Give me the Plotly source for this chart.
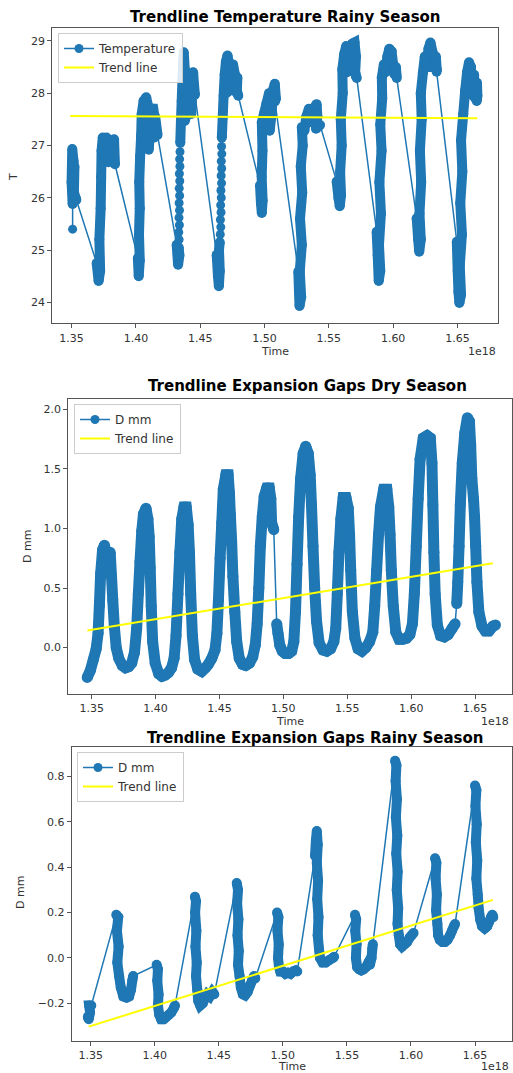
import plotly.graph_objects as go

BLUE = "#1f77b4"
W, H = 513, 1073

# ---------------- DATA (time in units of 1e18) ----------------
# Each run = consecutive readings; runs are joined by the plain connecting line.
temp_rainy_runs = [
    [(1.3508, 25.40)],
    [(1.3508, 25.88), (1.3500, 26.30), (1.3505, 26.93), (1.3515, 26.70), (1.3510, 26.40),
     (1.3522, 26.60), (1.3518, 26.10), (1.3537, 25.96)],
    [(1.3695, 24.75), (1.3710, 24.41), (1.3722, 24.60), (1.3716, 25.20), (1.3726, 25.80),
     (1.3730, 26.40), (1.3733, 26.90), (1.3742, 27.15), (1.3758, 26.75), (1.3772, 27.15),
     (1.3786, 26.68), (1.3800, 27.10), (1.3815, 26.75), (1.3830, 27.12), (1.3837, 26.64)],
    [(1.4015, 24.85), (1.4022, 24.50), (1.4030, 24.80), (1.4024, 25.30), (1.4030, 25.80),
     (1.4026, 26.30), (1.4033, 26.80), (1.4041, 27.20), (1.4045, 27.60), (1.4060, 27.85),
     (1.4080, 27.92), (1.4095, 27.75), (1.4080, 27.35), (1.4060, 27.10), (1.4085, 27.00),
     (1.4100, 26.92), (1.4110, 27.30), (1.4120, 27.70), (1.4135, 27.70), (1.4150, 27.45),
     (1.4140, 27.15), (1.4155, 27.20), (1.4150, 27.55), (1.4168, 27.20)],
    [(1.4317, 25.10), (1.4328, 24.72), (1.4338, 24.90), (1.4333, 25.05)],
    [(1.4336, 25.20)], [(1.4333, 25.34)], [(1.4338, 25.48)], [(1.4335, 25.62)], [(1.4339, 25.76)],
    [(1.4336, 25.90)], [(1.4340, 26.04)], [(1.4337, 26.18)], [(1.4341, 26.32)], [(1.4338, 26.46)],
    [(1.4342, 26.60)], [(1.4340, 26.74)], [(1.4343, 26.88)],
    [(1.4345, 27.05), (1.4350, 27.45), (1.4356, 27.85), (1.4362, 28.25), (1.4368, 28.60),
     (1.4372, 28.78), (1.4380, 28.45), (1.4372, 28.00), (1.4365, 27.55), (1.4380, 27.47),
     (1.4395, 27.60), (1.4400, 28.00), (1.4412, 28.30), (1.4425, 28.10), (1.4415, 27.70),
     (1.4430, 27.60), (1.4438, 28.00), (1.4445, 28.40), (1.4452, 28.15), (1.4459, 27.97)],
    [(1.4628, 24.91), (1.4638, 24.50), (1.4645, 24.31), (1.4652, 24.60), (1.4646, 25.00),
     (1.4652, 25.15)],
    [(1.4656, 25.30)], [(1.4660, 25.44)], [(1.4657, 25.58)], [(1.4662, 25.72)], [(1.4659, 25.86)],
    [(1.4664, 26.00)], [(1.4661, 26.14)], [(1.4666, 26.28)], [(1.4663, 26.42)], [(1.4667, 26.56)],
    [(1.4664, 26.70)], [(1.4668, 26.84)], [(1.4666, 26.98)],
    [(1.4668, 27.15), (1.4675, 27.55), (1.4682, 27.95), (1.4690, 28.35), (1.4700, 28.60),
     (1.4712, 28.72), (1.4725, 28.55), (1.4715, 28.20), (1.4705, 28.01), (1.4725, 28.05),
     (1.4740, 28.35), (1.4755, 28.55), (1.4770, 28.35), (1.4762, 28.05), (1.4780, 28.03),
     (1.4789, 28.30), (1.4785, 28.05), (1.4796, 27.95)],
    [(1.4965, 26.24), (1.4972, 25.90), (1.4979, 25.71), (1.4985, 25.95), (1.4978, 26.40),
     (1.4984, 26.90), (1.4979, 27.44), (1.4995, 27.60), (1.5015, 27.80), (1.5035, 28.00),
     (1.5045, 27.50), (1.5040, 27.28), (1.5055, 27.60), (1.5065, 28.05), (1.5080, 28.18),
     (1.5088, 27.90), (1.5081, 27.84)],
    [(1.5263, 24.59), (1.5268, 24.20), (1.5272, 23.93), (1.5285, 24.10), (1.5274, 24.60),
     (1.5290, 25.10), (1.5276, 25.60), (1.5293, 26.10), (1.5282, 26.60), (1.5297, 27.00),
     (1.5290, 27.35), (1.5310, 27.28), (1.5325, 27.55), (1.5345, 27.70), (1.5360, 27.45),
     (1.5378, 27.55), (1.5395, 27.75), (1.5405, 27.79), (1.5411, 27.55), (1.5400, 27.32),
     (1.5432, 27.39)],
    [(1.5561, 26.31), (1.5575, 26.00), (1.5585, 25.84), (1.5595, 26.05), (1.5588, 26.50),
     (1.5600, 27.00), (1.5593, 27.50), (1.5608, 28.00), (1.5605, 28.45), (1.5620, 28.75),
     (1.5635, 28.90), (1.5650, 28.70), (1.5642, 28.40), (1.5660, 28.45), (1.5672, 28.80),
     (1.5685, 28.95), (1.5700, 28.97), (1.5711, 28.70), (1.5705, 28.40), (1.5711, 28.33),
     (1.5717, 28.29)],
    [(1.5872, 25.35), (1.5880, 24.90), (1.5888, 24.41), (1.5900, 24.60), (1.5890, 25.10),
     (1.5905, 25.70), (1.5893, 26.30), (1.5910, 26.90), (1.5900, 27.40), (1.5915, 27.90),
     (1.5912, 28.30), (1.5928, 28.55), (1.5942, 28.40), (1.5955, 28.70), (1.5970, 28.85),
     (1.5988, 28.80), (1.6000, 28.55), (1.6010, 28.36), (1.6022, 28.50), (1.6025, 28.36),
     (1.6028, 28.29)],
    [(1.6183, 25.61), (1.6195, 25.20), (1.6203, 24.97), (1.6215, 25.20), (1.6205, 25.70),
     (1.6218, 26.30), (1.6208, 26.90), (1.6222, 27.50), (1.6215, 28.00), (1.6232, 28.40),
     (1.6246, 28.70), (1.6262, 28.55), (1.6275, 28.85), (1.6290, 28.97), (1.6305, 28.80),
     (1.6298, 28.50), (1.6318, 28.50), (1.6332, 28.70), (1.6339, 28.45), (1.6338, 28.41)],
    [(1.6495, 25.16), (1.6502, 24.60), (1.6508, 24.20), (1.6515, 23.99), (1.6528, 24.15),
     (1.6518, 24.70), (1.6535, 25.30), (1.6522, 25.90), (1.6538, 26.50), (1.6528, 27.10),
     (1.6545, 27.60), (1.6560, 28.05), (1.6575, 28.40), (1.6590, 28.59), (1.6605, 28.50),
     (1.6600, 28.10), (1.6615, 28.30), (1.6630, 28.35), (1.6625, 27.95), (1.6640, 27.90),
     (1.6652, 28.20), (1.6655, 27.95), (1.6650, 27.85)],
]
temp_trend_time = [1.3490, 1.6655]
temp_trend = [27.565, 27.52]

gap_dry_runs = [
    [(1.3465, -0.25), (1.3490, -0.19), (1.3513, -0.10), (1.3535, -0.01), (1.3550, 0.12),
     (1.3560, 0.35), (1.3570, 0.62), (1.3585, 0.82), (1.3600, 0.86), (1.3612, 0.78),
     (1.3622, 0.64), (1.3632, 0.78), (1.3645, 0.80), (1.3655, 0.60), (1.3665, 0.40),
     (1.3677, 0.18), (1.3692, 0.00), (1.3712, -0.09), (1.3740, -0.15), (1.3765, -0.17),
     (1.3790, -0.16), (1.3813, -0.13), (1.3835, -0.04), (1.3852, 0.16), (1.3865, 0.45),
     (1.3878, 0.72), (1.3892, 0.98), (1.3905, 1.12), (1.3925, 1.17), (1.3940, 1.08),
     (1.3950, 0.93), (1.3958, 0.67), (1.3966, 0.35), (1.3977, 0.05), (1.3997, -0.13),
     (1.4025, -0.22), (1.4050, -0.24), (1.4075, -0.23), (1.4100, -0.21), (1.4125, -0.17),
     (1.4145, -0.09), (1.4160, 0.10), (1.4175, 0.45), (1.4190, 0.80), (1.4205, 1.08),
     (1.4222, 1.18), (1.4240, 1.18), (1.4255, 1.03), (1.4265, 0.80), (1.4275, 0.45),
     (1.4288, 0.10), (1.4305, -0.10), (1.4330, -0.18), (1.4361, -0.20), (1.4390, -0.17),
     (1.4413, -0.14), (1.4440, -0.09), (1.4465, -0.02), (1.4480, 0.12), (1.4492, 0.40),
     (1.4505, 0.75), (1.4518, 1.05), (1.4530, 1.33), (1.4550, 1.45), (1.4568, 1.45),
     (1.4578, 1.30), (1.4585, 1.12), (1.4595, 0.90), (1.4605, 0.60), (1.4620, 0.30),
     (1.4635, 0.05), (1.4655, -0.09), (1.4680, -0.14), (1.4705, -0.15), (1.4735, -0.13),
     (1.4760, -0.08), (1.4780, 0.02), (1.4795, 0.20), (1.4808, 0.50), (1.4820, 0.85),
     (1.4835, 1.10), (1.4850, 1.27), (1.4870, 1.34), (1.4890, 1.34), (1.4902, 1.25),
     (1.4908, 1.05), (1.4925, 0.99)],
    [(1.4948, 0.20), (1.4958, 0.12), (1.4972, 0.02), (1.4992, -0.03), (1.5015, -0.05),
     (1.5040, -0.05), (1.5065, -0.03), (1.5082, 0.05), (1.5095, 0.30), (1.5107, 0.70),
     (1.5120, 1.10), (1.5135, 1.42), (1.5155, 1.63), (1.5175, 1.69), (1.5195, 1.63),
     (1.5210, 1.45), (1.5220, 1.20), (1.5232, 0.85), (1.5245, 0.50), (1.5260, 0.22),
     (1.5280, 0.04), (1.5310, -0.02), (1.5340, -0.03), (1.5370, -0.01), (1.5395, 0.05),
     (1.5410, 0.16), (1.5422, 0.45), (1.5435, 0.80), (1.5450, 1.08), (1.5468, 1.26),
     (1.5490, 1.26), (1.5508, 1.17), (1.5518, 0.95), (1.5527, 0.65), (1.5540, 0.30),
     (1.5560, 0.08), (1.5585, -0.01), (1.5615, -0.03), (1.5645, 0.00), (1.5675, 0.05),
     (1.5700, 0.13), (1.5715, 0.35), (1.5730, 0.65), (1.5745, 0.95), (1.5760, 1.18),
     (1.5785, 1.33), (1.5810, 1.33), (1.5825, 1.18), (1.5835, 0.95), (1.5845, 0.65),
     (1.5860, 0.35), (1.5880, 0.13), (1.5905, 0.07), (1.5935, 0.07), (1.5965, 0.08),
     (1.5990, 0.11), (1.6010, 0.20), (1.6025, 0.45), (1.6040, 0.85), (1.6055, 1.25),
     (1.6070, 1.58), (1.6095, 1.76), (1.6125, 1.78), (1.6150, 1.76), (1.6163, 1.55),
     (1.6170, 1.20), (1.6178, 0.80), (1.6188, 0.45), (1.6205, 0.19), (1.6230, 0.10),
     (1.6260, 0.09), (1.6290, 0.11), (1.6320, 0.16), (1.6344, 0.20)],
    [(1.6357, 0.37), (1.6365, 0.55), (1.6375, 0.85), (1.6385, 1.20), (1.6400, 1.55),
     (1.6420, 1.80), (1.6440, 1.93), (1.6456, 1.90), (1.6466, 1.70), (1.6475, 1.42),
     (1.6488, 1.25), (1.6496, 1.10), (1.6505, 0.85), (1.6515, 0.55), (1.6530, 0.30),
     (1.6555, 0.18), (1.6580, 0.14), (1.6610, 0.14), (1.6640, 0.18), (1.6660, 0.19)],
]
gap_dry_trend_time = [1.3466, 1.6639]
gap_dry_trend = [0.143, 0.708]

gap_rainy_runs = [
    [(1.3478, -0.26), (1.3485, -0.27), (1.3495, -0.24), (1.3488, -0.21), (1.3505, -0.21)],
    [(1.3700, 0.19), (1.3715, 0.18), (1.3705, 0.12), (1.3718, 0.05), (1.3708, -0.02),
     (1.3722, -0.08), (1.3735, -0.13), (1.3755, -0.17), (1.3780, -0.175), (1.3800, -0.17),
     (1.3815, -0.14), (1.3825, -0.10), (1.3832, -0.08)],
    [(1.4015, -0.03), (1.4025, -0.05), (1.4020, -0.10), (1.4030, -0.16), (1.4025, -0.21),
     (1.4035, -0.25), (1.4050, -0.27), (1.4070, -0.27), (1.4090, -0.26), (1.4110, -0.25),
     (1.4130, -0.24), (1.4150, -0.22), (1.4158, -0.21)],
    [(1.4314, 0.27), (1.4322, 0.25), (1.4315, 0.20), (1.4325, 0.12), (1.4318, 0.05),
     (1.4328, -0.02), (1.4322, -0.08), (1.4332, -0.14), (1.4340, -0.19), (1.4355, -0.21),
     (1.4375, -0.20), (1.4390, -0.18), (1.4410, -0.16), (1.4430, -0.17), (1.4450, -0.15),
     (1.4465, -0.16)],
    [(1.4640, 0.33), (1.4650, 0.30), (1.4643, 0.24), (1.4653, 0.17), (1.4646, 0.10),
     (1.4656, 0.03), (1.4650, -0.03), (1.4662, -0.08), (1.4672, -0.13), (1.4688, -0.16),
     (1.4705, -0.165), (1.4725, -0.15), (1.4745, -0.12), (1.4760, -0.10), (1.4775, -0.08),
     (1.4785, -0.09)],
    [(1.4955, 0.20), (1.4965, 0.18), (1.4958, 0.12), (1.4968, 0.06), (1.4962, 0.00),
     (1.4970, -0.04), (1.4980, -0.06), (1.5000, -0.06), (1.5020, -0.07), (1.5040, -0.065),
     (1.5060, -0.07), (1.5080, -0.06), (1.5100, -0.055), (1.5112, -0.06)],
    [(1.5251, 0.45), (1.5258, 0.52), (1.5265, 0.56), (1.5272, 0.50), (1.5265, 0.42),
     (1.5275, 0.34), (1.5268, 0.26), (1.5278, 0.18), (1.5272, 0.10), (1.5282, 0.04),
     (1.5290, 0.00), (1.5310, -0.02), (1.5335, -0.02), (1.5360, -0.01), (1.5390, 0.00),
     (1.5400, 0.005)],
    [(1.5563, 0.19), (1.5572, 0.17), (1.5565, 0.12), (1.5575, 0.06), (1.5570, 0.00),
     (1.5580, -0.04), (1.5595, -0.05), (1.5612, -0.055), (1.5630, -0.05), (1.5650, -0.04),
     (1.5668, -0.02), (1.5680, -0.03), (1.5692, 0.00), (1.5698, 0.04), (1.5702, 0.06)],
    [(1.5876, 0.87), (1.5886, 0.85), (1.5880, 0.78), (1.5890, 0.70), (1.5882, 0.62),
     (1.5893, 0.54), (1.5885, 0.46), (1.5896, 0.38), (1.5889, 0.30), (1.5900, 0.22),
     (1.5895, 0.15), (1.5905, 0.10), (1.5915, 0.06), (1.5930, 0.05), (1.5950, 0.06),
     (1.5970, 0.07), (1.5990, 0.09), (1.6005, 0.10), (1.6020, 0.11)],
    [(1.6188, 0.44), (1.6198, 0.42), (1.6192, 0.35), (1.6202, 0.28), (1.6196, 0.21),
     (1.6206, 0.15), (1.6212, 0.10), (1.6225, 0.08), (1.6245, 0.07), (1.6265, 0.07),
     (1.6285, 0.08), (1.6305, 0.10), (1.6320, 0.12), (1.6335, 0.14), (1.6344, 0.15)],
    [(1.6500, 0.76), (1.6510, 0.74), (1.6503, 0.67), (1.6513, 0.59), (1.6506, 0.51),
     (1.6517, 0.43), (1.6510, 0.35), (1.6521, 0.28), (1.6528, 0.22), (1.6540, 0.17),
     (1.6555, 0.14), (1.6575, 0.13), (1.6595, 0.14), (1.6610, 0.16), (1.6625, 0.18),
     (1.6635, 0.19), (1.6642, 0.18)],
]
gap_rainy_trend_time = [1.3485, 1.6640]
gap_rainy_trend = [-0.303, 0.256]

time_ticks = [1.35, 1.40, 1.45, 1.50, 1.55, 1.60, 1.65]
temp_ticks = [24, 25, 26, 27, 28, 29]
gap_dry_ticks = [0.0, 0.5, 1.0, 1.5, 2.0]
gap_rainy_ticks = [-0.2, 0.0, 0.2, 0.4, 0.6, 0.8]

titles = ["Trendline Temperature Rainy Season",
          "Trendline Expansion Gaps Dry Season",
          "Trendline Expansion Gaps Rainy Season"]
series_names = ["Temperature", "D mm", "D mm"]
y_labels = ["T", "D mm", "D mm"]


# ---------------- helpers ----------------
def build(runs):
    t_all, v_all, t_thick, v_thick = [], [], [], []
    for run in runs:
        for t, v in run:
            t_all.append(t)
            v_all.append(v)
        if len(run) > 1:
            t_thick += [p[0] for p in run] + [None]
            v_thick += [p[1] for p in run] + [None]
    return t_all, v_all, t_thick, v_thick


def px_x(p):
    return p / W


def px_y(p):
    return 1 - p / H


panels = [
    dict(runs=temp_rainy_runs, tt=temp_trend_time, tv=temp_trend, width=10,
         xdom=[52.3, 497.7], ydom=[323.3, 28.3], xr=[1.3350, 1.6813], yr=[23.60, 29.24],
         yticks=temp_ticks, yfmt="d", legend="legend",
         leg=(58, 33), title_xy=(285, 17), ylab_xy=(13, 177), time_y=351, e18_x=498),
    dict(runs=gap_dry_runs, tt=gap_dry_trend_time, tv=gap_dry_trend, width=11,
         xdom=[68.3, 511.7], ydom=[694.0, 399.3], xr=[1.3317, 1.6787], yr=[-0.389, 2.084],
         yticks=gap_dry_ticks, yfmt=".1f", legend="legend2",
         leg=(74, 404), title_xy=(307.5, 386), ylab_xy=(27, 547), time_y=721, e18_x=511),
    dict(runs=gap_rainy_runs, tt=gap_rainy_trend_time, tv=gap_rainy_trend, width=10,
         xdom=[71.7, 511.7], ydom=[1040.7, 747.3], xr=[1.3352, 1.6786], yr=[-0.365, 0.929],
         yticks=gap_rainy_ticks, yfmt=".1f", legend="legend3",
         leg=(77, 752), title_xy=(315, 738), ylab_xy=(20, 893), time_y=1066, e18_x=511),
]

fig = go.Figure()
annotations = []
layout_axes = {}
tickfont = dict(family="DejaVu Sans", size=11, color="#333333")
labfont = dict(family="DejaVu Sans", size=11, color="#333333")

for i, p in enumerate(panels):
    n = "" if i == 0 else str(i + 1)
    xa, ya = "x" + n, "y" + n
    t_all, v_all, t_thick, v_thick = build(p["runs"])

    fig.add_trace(go.Scatter(
        x=t_all, y=v_all, mode="lines+markers", name=series_names[i],
        line=dict(color=BLUE, width=1.5, simplify=False),
        marker=dict(color=BLUE, size=9, line=dict(width=0)),
        xaxis=xa, yaxis=ya, legend=p["legend"], hoverinfo="skip"))
    fig.add_trace(go.Scatter(
        x=t_thick, y=v_thick, mode="lines+markers", showlegend=False,
        line=dict(color=BLUE, width=p["width"], simplify=False),
        marker=dict(color=BLUE, size=p["width"], line=dict(width=0)),
        connectgaps=False, xaxis=xa, yaxis=ya, legend=p["legend"], hoverinfo="skip"))
    fig.add_trace(go.Scatter(
        x=p["tt"], y=p["tv"], mode="lines", name="Trend line",
        line=dict(color="#ffff00", width=2),
        xaxis=xa, yaxis=ya, legend=p["legend"], hoverinfo="skip"))

    common = dict(showline=True, linecolor="#555555", linewidth=1, mirror=True,
                  ticks="outside", ticklen=4, tickcolor="#555555", tickwidth=1,
                  tickfont=tickfont, showgrid=False, zeroline=False)
    layout_axes["xaxis" + n] = dict(
        domain=[px_x(p["xdom"][0]), px_x(p["xdom"][1])], range=p["xr"],
        tickvals=time_ticks, tickformat=".2f", anchor=ya, **common)
    layout_axes["yaxis" + n] = dict(
        domain=[px_y(p["ydom"][0]), px_y(p["ydom"][1])], range=p["yr"],
        tickvals=p["yticks"], tickformat=p["yfmt"], anchor=xa, **common)

    layout_axes[p["legend"]] = dict(
        x=px_x(p["leg"][0]), y=px_y(p["leg"][1]), xanchor="left", yanchor="top",
        bgcolor="rgba(255,255,255,0.85)", bordercolor="#cccccc", borderwidth=1,
        font=dict(family="DejaVu Sans", size=12, color="#333333"),
        tracegroupgap=0, itemwidth=30)

    tx, ty = p["title_xy"]
    annotations.append(dict(
        text="<b>%s</b>" % titles[i], x=px_x(tx), y=px_y(ty), xref="paper", yref="paper",
        xanchor="center", yanchor="middle", showarrow=False,
        font=dict(family="DejaVu Sans", size=15, color="#000000")))
    lx, ly = p["ylab_xy"]
    annotations.append(dict(
        text=y_labels[i], x=px_x(lx), y=px_y(ly), xref="paper", yref="paper",
        xanchor="center", yanchor="middle", textangle=-90, showarrow=False, font=labfont))
    xc = (p["xdom"][0] + p["xdom"][1]) / 2
    annotations.append(dict(
        text="Time", x=px_x(xc), y=px_y(p["time_y"]), xref="paper", yref="paper",
        xanchor="center", yanchor="middle", showarrow=False, font=labfont))
    annotations.append(dict(
        text="1e18", x=px_x(p["e18_x"]), y=px_y(p["time_y"]), xref="paper", yref="paper",
        xanchor="right", yanchor="middle", showarrow=False, font=labfont))

fig.update_layout(
    width=W, height=H, margin=dict(l=0, r=0, t=0, b=0),
    paper_bgcolor="white", plot_bgcolor="white", showlegend=True,
    annotations=annotations, **layout_axes)

fig.write_html("out.html",
               config={"displayModeBar": False},
               post_script="document.body.style.margin='0';"
                           "document.body.style.overflow='hidden';")
